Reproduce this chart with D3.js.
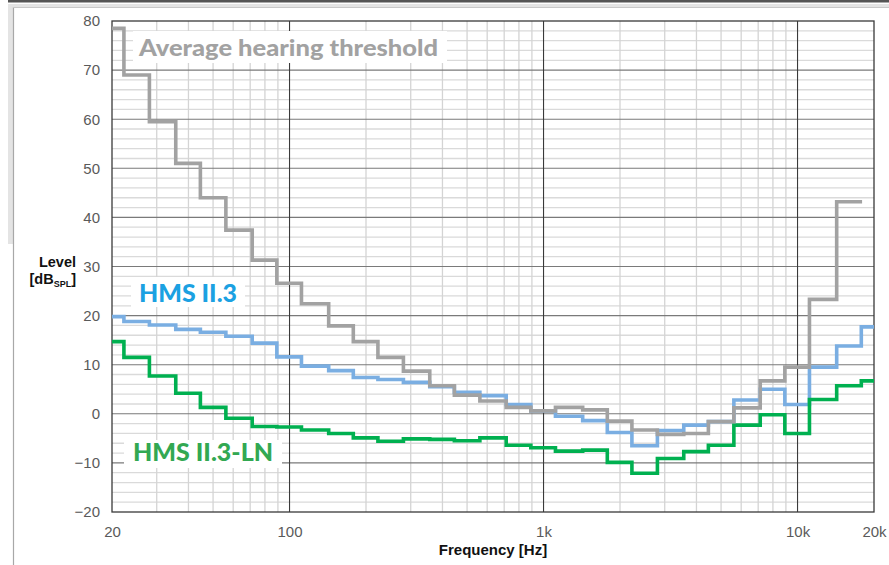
<!DOCTYPE html>
<html><head><meta charset="utf-8">
<script src="https://cdn.jsdelivr.net/npm/d3@7"></script>
<style>html,body{margin:0;padding:0;background:#fff;}svg{display:block;}</style>
</head><body>
<svg id="c" width="889" height="565"></svg>
<script>
// 1/3-octave band centre frequencies [Hz]
const bands = [20,25,31.5,40,50,63,80,100,125,160,200,250,315,400,500,630,800,1000,1250,1600,2000,2500,3150,4000,5000,6300,8000,10000,12500,16000,20000];
// Average hearing threshold (20 Hz .. 16 kHz) [dB SPL]
const threshold = [78.5,69,59.5,51,44,37.4,31.3,26.6,22.4,17.9,14.7,11.5,8.7,5.7,3.8,2.6,1.3,0.6,1.3,0.8,-1.5,-3.3,-4.2,-4.0,-1.6,1.2,6.7,9.5,23.3,43.2];
// HMS II.3 self-noise [dB SPL]
const hms = [19.8,18.8,18.1,17.2,16.6,15.8,14.4,11.6,9.7,8.8,7.4,7.0,6.4,5.5,4.4,3.7,1.9,0.6,-0.5,-1.4,-3.8,-6.5,-3.4,-2.3,-1.6,2.8,5.0,1.9,9.5,13.8,17.7];
// HMS II.3-LN self-noise [dB SPL]
const hmsLN = [14.7,11.5,7.7,4.2,1.3,-0.9,-2.6,-2.7,-3.3,-4.0,-4.9,-5.6,-5.1,-5.2,-5.5,-4.9,-6.4,-6.9,-7.6,-7.4,-9.9,-12.1,-9.1,-7.7,-6.4,-2.3,-0.2,-4.0,2.9,5.7,6.7];
const xTickValues = [20,100,1000,10000,20000];
const xTickLabels = ["20","100","1k","10k","20k"];
const yTickValues = [-20,-10,0,10,20,30,40,50,60,70,80];

const svg = d3.select("#c");
const L = 112, R = 874, T = 21, B = 512;
const x = d3.scaleLog().domain([20,20000]).range([L,R]);
const y = d3.scaleLinear().domain([-20,80]).range([B,T]);

// outer frame
svg.append("rect").attr("x",8).attr("y",0).attr("width",881).attr("height",2.5).attr("fill","#555");
svg.append("rect").attr("x",8).attr("y",4).attr("width",881).attr("height",3).attr("fill","#e4e4e4");
svg.append("rect").attr("x",8).attr("y",4).attr("width",5).attr("height",240).attr("fill","#e4e4e4");
svg.append("line").attr("x1",13.5).attr("x2",13.5).attr("y1",7).attr("y2",565).attr("stroke","#a8a8a8").attr("stroke-width",1.2);
svg.append("line").attr("x1",13).attr("x2",889).attr("y1",7.5).attr("y2",7.5).attr("stroke","#c8c8c8").attr("stroke-width",1);

// grid
const g = svg.append("g");
const minorY = d3.range(-20,81,2).filter(v => v % 10 !== 0);
g.selectAll("line.my").data(minorY).join("line")
  .attr("x1",L).attr("x2",R).attr("y1",d=>y(d)).attr("y2",d=>y(d))
  .attr("stroke","#dadada").attr("stroke-width",1.3);
const minorX = [];
[10,100,1000,10000].forEach(dec => { for (let m=2;m<=9;m++){ const f=dec*m; if (f>20 && f<20000) minorX.push(f);} });
g.selectAll("line.mx").data(minorX).join("line")
  .attr("x1",d=>x(d)).attr("x2",d=>x(d)).attr("y1",T).attr("y2",B)
  .attr("stroke","#d4d4d4").attr("stroke-width",1.3);
g.selectAll("line.My").data(yTickValues.filter(v=>v>-20&&v<80)).join("line")
  .attr("x1",L).attr("x2",R).attr("y1",d=>y(d)).attr("y2",d=>y(d))
  .attr("stroke","#7a7a7a").attr("stroke-width",1.1);
g.selectAll("line.Mx").data([100,1000,10000]).join("line")
  .attr("x1",d=>x(d)).attr("x2",d=>x(d)).attr("y1",T).attr("y2",B)
  .attr("stroke","#3a3a3a").attr("stroke-width",1.1);
g.append("rect").attr("x",L).attr("y",T).attr("width",R-L).attr("height",B-T)
  .attr("fill","none").attr("stroke","#3a3a3a").attr("stroke-width",1.3);

// label boxes
const boxes = [
  {x:133,y:31,w:314,h:32},
  {x:131,y:277,w:114,h:30},
  {x:124,y:440,w:158,h:28}
];
svg.selectAll("rect.bx").data(boxes).join("rect")
  .attr("x",d=>d.x).attr("y",d=>d.y).attr("width",d=>d.w).attr("height",d=>d.h).attr("fill","#fff");

// step lines
const half = Math.pow(10, 1/20);
function stepPts(vals){
  const pts = vals.map((v,i)=>[Math.max(20, bands[i]/half), v]);
  const last = vals.length-1;
  pts.push([Math.min(20000, bands[last]*half), vals[last]]);
  return pts;
}
const line = d3.line().x(d=>x(d[0])).y(d=>y(d[1])).curve(d3.curveStepAfter);
const series = [
  {vals:hms, color:"#7aaee2"},
  {vals:hmsLN, color:"#00b050"},
  {vals:threshold, color:"#a2a2a2"}
];
svg.selectAll("path.s").data(series).join("path")
  .attr("d",d=>line(stepPts(d.vals))).attr("fill","none")
  .attr("stroke",d=>d.color).attr("stroke-width",3.6).attr("stroke-linejoin","miter").attr("stroke-linecap","butt");

// series labels
const labels = [
  {t:"Average hearing threshold", x:139, y:56, w:299, fs:22, c:"#a2a2a2"},
  {t:"HMS II.3", x:139, y:302, w:98, fs:24, c:"#1ba1e2"},
  {t:"HMS II.3-LN", x:133, y:461, w:140, fs:24, c:"#32a852"}
];
svg.selectAll("text.lb").data(labels).join("text")
  .attr("x",d=>d.x).attr("y",d=>d.y).attr("fill",d=>d.c)
  .attr("font-family","Lato, 'DejaVu Sans', sans-serif").attr("font-weight",900)
  .attr("font-size",d=>d.fs).attr("textLength",d=>d.w).attr("lengthAdjust","spacingAndGlyphs")
  .text(d=>d.t);

// axes tick labels
const yAxis = d3.axisLeft(y).tickValues(yTickValues).tickSize(0).tickPadding(12).tickFormat(d3.format("d"));
const ya = svg.append("g").attr("transform",`translate(${L},0)`).call(yAxis);
ya.select(".domain").remove();
ya.selectAll("text").attr("font-family","'Liberation Sans', Arial, sans-serif").attr("font-size",15).attr("fill","#5a5a5a");

const xAxis = d3.axisBottom(x).tickValues(xTickValues).tickSize(0).tickPadding(14)
  .tickFormat((d,i)=>xTickLabels[i]);
const xa = svg.append("g").attr("transform",`translate(0,${B})`).call(xAxis);
xa.select(".domain").remove();
xa.selectAll("text").attr("font-family","'Liberation Sans', Arial, sans-serif").attr("font-size",15).attr("fill","#5a5a5a");

// axis titles
svg.append("text").attr("x",(L+R)/2).attr("y",555).attr("text-anchor","middle")
  .attr("font-family","'Liberation Sans', Arial, sans-serif").attr("font-weight","bold").attr("font-size",15)
  .attr("fill","#111").text("Frequency [Hz]");
svg.append("text").attr("x",76).attr("y",267).attr("text-anchor","end")
  .attr("font-family","'Liberation Sans', Arial, sans-serif").attr("font-weight","bold").attr("font-size",14.5)
  .attr("fill","#111").text("Level");
const t2 = svg.append("text").attr("x",76).attr("y",284).attr("text-anchor","end")
  .attr("font-family","'Liberation Sans', Arial, sans-serif").attr("font-weight","bold").attr("font-size",14.5)
  .attr("fill","#111");
t2.append("tspan").text("[dB");
t2.append("tspan").attr("font-size",9).attr("dy",3).text("SPL");
t2.append("tspan").attr("dy",-3).text("]");
</script>
</body></html>
